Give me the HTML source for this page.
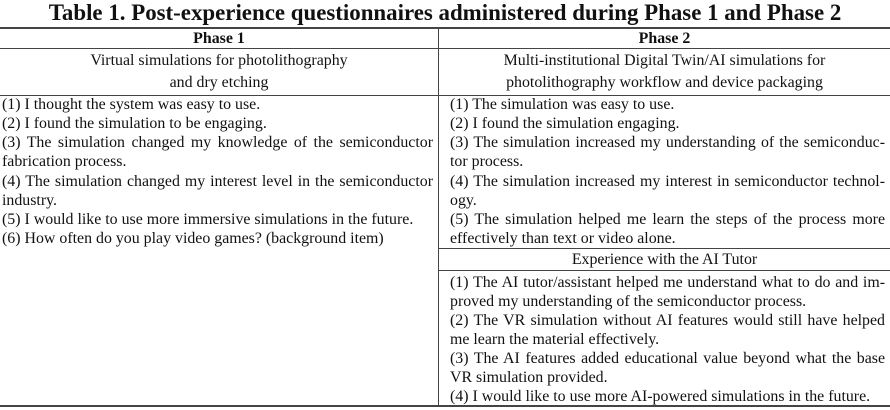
<!DOCTYPE html>
<html><head><meta charset="utf-8"><style>
body{margin:0;width:890px;height:410px;background:#fff;position:relative;overflow:hidden;font-family:"Liberation Serif",serif;color:#111}
.t{position:absolute;left:0;width:890px;text-align:center;font-weight:bold;font-size:22.9px;top:0px;line-height:26px}
.h{position:absolute;height:1px;background:#444}
.v{position:absolute;width:1px;background:#444}
.l{position:absolute;font-size:15.9px;line-height:19px;white-space:nowrap}
.j{text-align:justify;text-align-last:justify;white-space:normal}
.c{text-align:center}
.b{font-weight:bold}
</style></head><body>
<div class="t">Table 1. Post-experience questionnaires administered during Phase 1 and Phase 2</div>
<div class="h" style="left:0;width:890px;top:27px;height:2px"></div>
<div class="h" style="left:0;width:890px;top:48px"></div>
<div class="h" style="left:0;width:890px;top:95px"></div>
<div class="h" style="left:439px;width:451px;top:248px"></div>
<div class="h" style="left:439px;width:451px;top:270px"></div>
<div class="h" style="left:0;width:890px;top:405px;height:2px"></div>
<div class="v" style="left:438px;top:28px;height:378px"></div>

<div class="l c b" style="left:0;width:438px;top:29px">Phase 1</div>
<div class="l c b" style="left:439px;width:451px;top:29px">Phase 2</div>
<div class="l c" style="left:0;width:438px;top:51px">Virtual simulations for photolithography</div>
<div class="l c" style="left:0;width:438px;top:73px">and dry etching</div>
<div class="l c" style="left:439px;width:451px;top:51px">Multi-institutional Digital Twin/AI simulations for</div>
<div class="l c" style="left:439px;width:451px;top:73px">photolithography workflow and device packaging</div>

<div class="l" style="left:2px;top:95px">(1) I thought the system was easy to use.</div>
<div class="l" style="left:2px;top:114px">(2) I found the simulation to be engaging.</div>
<div class="l j" style="left:2px;width:431px;top:133px">(3) The simulation changed my knowledge of the semiconductor</div>
<div class="l" style="left:2px;top:152px">fabrication process.</div>
<div class="l j" style="left:2px;width:431px;top:172px">(4) The simulation changed my interest level in the semiconductor</div>
<div class="l" style="left:2px;top:191px">industry.</div>
<div class="l" style="left:2px;top:210px">(5) I would like to use more immersive simulations in the future.</div>
<div class="l" style="left:2px;top:229px">(6) How often do you play video games? (background item)</div>

<div class="l" style="left:450px;top:95px">(1) The simulation was easy to use.</div>
<div class="l" style="left:450px;top:114px">(2) I found the simulation engaging.</div>
<div class="l j" style="left:450px;width:435px;top:133px">(3) The simulation increased my understanding of the semiconduc-</div>
<div class="l" style="left:450px;top:152px">tor process.</div>
<div class="l j" style="left:450px;width:435px;top:172px">(4) The simulation increased my interest in semiconductor technol-</div>
<div class="l" style="left:450px;top:191px">ogy.</div>
<div class="l j" style="left:450px;width:435px;top:210px">(5) The simulation helped me learn the steps of the process more</div>
<div class="l" style="left:450px;top:229px">effectively than text or video alone.</div>
<div class="l c" style="left:439px;width:451px;top:250px">Experience with the AI Tutor</div>
<div class="l j" style="left:450px;width:435px;top:273px">(1) The AI tutor/assistant helped me understand what to do and im-</div>
<div class="l" style="left:450px;top:292px">proved my understanding of the semiconductor process.</div>
<div class="l j" style="left:450px;width:435px;top:311px">(2) The VR simulation without AI features would still have helped</div>
<div class="l" style="left:450px;top:330px">me learn the material effectively.</div>
<div class="l j" style="left:450px;width:435px;top:349px">(3) The AI features added educational value beyond what the base</div>
<div class="l" style="left:450px;top:368px">VR simulation provided.</div>
<div class="l" style="left:450px;top:387px">(4) I would like to use more AI-powered simulations in the future.</div>
</body></html>
